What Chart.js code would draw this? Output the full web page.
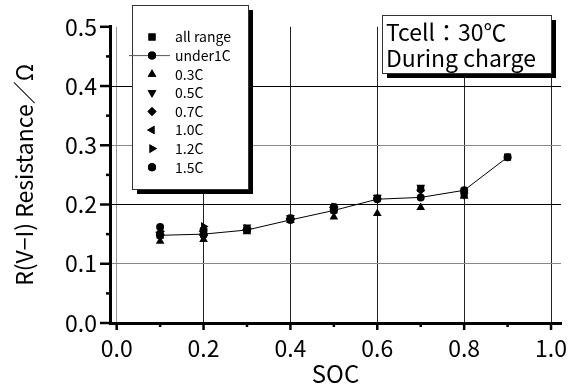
<!DOCTYPE html>
<html>
<head>
<meta charset="utf-8">
<script src="https://cdn.jsdelivr.net/npm/chart.js"></script>
<style>
  html, body { margin: 0; padding: 0; background: #fff; }
  #wrap { width: 579px; height: 391px; }
</style>
</head>
<body>
<div id="wrap"><canvas id="chart" width="579" height="391"></canvas></div>
<script>
// data
const soc = [0.1, 0.2, 0.3, 0.4, 0.5, 0.6, 0.7, 0.8, 0.9];
const allRange = [0.148, 0.150, 0.158, 0.175, 0.191, 0.211, 0.227, 0.217, 0.280];
const under1C  = [0.148, 0.150, 0.157, 0.174, 0.190, 0.209, 0.212, 0.224, 0.280];
const c03 = [0.138, 0.141, 0.154, 0.173, 0.179, 0.185, 0.195, 0.214, null];
const c05 = [0.145, 0.145, 0.162, 0.178, 0.193, 0.212, 0.229, 0.216, null];
const c07 = [0.150, 0.148, 0.158, 0.175, 0.192, 0.210, 0.224, null, null];
const c10 = [0.153, 0.155, 0.158, 0.176, 0.195, null, null, null, null];
const c12 = [0.155, 0.163, 0.160, 0.176, 0.196, null, null, null, null];
const c15 = [0.162, 0.157, 0.158, 0.177, 0.196, null, null, null, null];

const xTicks = [0, 0.1, 0.2, 0.3, 0.4, 0.5, 0.6, 0.7, 0.8, 0.9, 1.0];
const yTicks = [0, 0.05, 0.1, 0.15, 0.2, 0.25, 0.3, 0.35, 0.4, 0.45, 0.5];
const noteLines = ["Tcell：30℃", "During charge"];

const FONT = "'Noto Sans CJK JP', 'Noto Sans', sans-serif";

const pts = vals => soc.map((x, i) => ({ x: x, y: vals[i] }));

const series = [
  { label: "all range", data: allRange, style: "rect", rot: 0, r: 5, line: false },
  { label: "under1C", data: under1C, style: "circle", rot: 0, r: 4, line: true },
  { label: "0.3C", data: c03, style: "triangle", rot: 0, r: 5, line: false },
  { label: "0.5C", data: c05, style: "triangle", rot: 180, r: 5, line: false },
  { label: "0.7C", data: c07, style: "rectRot", rot: 0, r: 4.5, line: false },
  { label: "1.0C", data: c10, style: "triangle", rot: 270, r: 5, line: false },
  { label: "1.2C", data: c12, style: "triangle", rot: 90, r: 5, line: false },
  { label: "1.5C", data: c15, style: "circle", rot: 0, r: 4, line: false }
];

const isMajor = v => Math.abs(Math.round(v * 10) - v * 10) < 1e-6;

// boxes with a drop shadow: legend and note
function shadowBox(ctx, x, y, w, h) {
  ctx.save();
  ctx.fillStyle = "#000";
  ctx.fillRect(x + 5, y + 5, w, h);
  ctx.fillStyle = "#fff";
  ctx.fillRect(x, y, w, h);
  ctx.strokeStyle = "#333";
  ctx.lineWidth = 1;
  ctx.strokeRect(x + 0.5, y + 0.5, w, h);
  ctx.restore();
}

const extras = {
  id: "extras",
  afterDraw(chart) {
    const ctx = chart.ctx;
    const xs = chart.scales.x, ys = chart.scales.y;
    const area = chart.chartArea;

    // axis ticks, major and minor
    ctx.save();
    ctx.strokeStyle = "#000";
    ctx.lineWidth = 2.5;
    xTicks.forEach(v => {
      const px = xs.getPixelForValue(v);
      const len = Math.round(v * 10) % 2 === 0 ? 7 : 4;
      ctx.beginPath();
      ctx.moveTo(px, area.bottom);
      ctx.lineTo(px, area.bottom + len);
      ctx.stroke();
    });
    yTicks.forEach(v => {
      const py = ys.getPixelForValue(v);
      const len = isMajor(v) ? 10 : 4;
      ctx.beginPath();
      ctx.moveTo(area.left, py);
      ctx.lineTo(area.left - len, py);
      ctx.stroke();
    });
    ctx.restore();

    // legend box
    shadowBox(ctx, 132, 5, 116, 184);
    ctx.save();
    ctx.font = "14px " + FONT;
    ctx.textBaseline = "middle";
    ctx.fillStyle = "#000";
    series.forEach((s, i) => {
      const y = 37 + i * 18.6;
      if (s.line) {
        ctx.strokeStyle = "#555";
        ctx.lineWidth = 1;
        ctx.beginPath();
        ctx.moveTo(129, y);
        ctx.lineTo(170, y);
        ctx.stroke();
      }
      Chart.helpers.drawPoint(ctx, {
        pointStyle: s.style, rotation: s.rot, radius: s.r, borderWidth: 0
      }, 152, y);
      ctx.fillStyle = "#000";
      ctx.fill();
      ctx.fillText(s.label, 175, y);
    });
    ctx.restore();

    // note box
    shadowBox(ctx, 382, 15, 169, 58);
    ctx.save();
    ctx.font = "23px " + FONT;
    ctx.fillStyle = "#000";
    ctx.textBaseline = "alphabetic";
    ctx.fillText(noteLines[0], 386, 41);
    ctx.fillText(noteLines[1], 386, 67);
    ctx.restore();
  }
};

new Chart(document.getElementById("chart"), {
  type: "scatter",
  data: {
    datasets: series.map(s => ({
      label: s.label,
      data: pts(s.data),
      showLine: s.line,
      borderColor: "#000",
      borderWidth: 1,
      backgroundColor: "#000",
      pointStyle: s.style,
      rotation: s.rot,
      pointRadius: s.r,
      pointBorderWidth: 0,
      pointBackgroundColor: "#000"
    }))
  },
  options: {
    responsive: false,
    devicePixelRatio: 1,
    animation: false,
    layout: { padding: { left: 0, right: 18, top: 16, bottom: 0 } },
    plugins: { legend: { display: false }, tooltip: { enabled: false } },
    scales: {
      x: {
        type: "linear",
        min: -0.0154,
        max: 1.023,
        afterFit: s => { s.height = 68; },
        afterBuildTicks: s => { s.ticks = xTicks.map(v => ({ value: v })); },
        ticks: {
          autoSkip: false,
          maxRotation: 0,
          padding: 11,
          color: "#000",
          font: { family: FONT, size: 23 },
          callback: v => (Math.round(v * 10) % 2 === 0 ? v.toFixed(1) : "")
        },
        grid: {
          drawTicks: false,
          lineWidth: 1,
          color: c => {
            const v = c.tick ? c.tick.value : 0;
            if (Math.round(v * 10) % 2 !== 0) return "rgba(0,0,0,0)";
            return v === 0 ? "#999" : "#222";
          }
        },
        border: { color: "#000", width: 3 },
        title: {
          display: true,
          text: "SOC",
          color: "#000",
          font: { family: FONT, size: 24 },
          padding: { top: 0, bottom: 3 }
        }
      },
      y: {
        type: "linear",
        min: 0,
        max: 0.5,
        afterFit: s => { s.width = 110; },
        afterBuildTicks: s => { s.ticks = yTicks.map(v => ({ value: v })); },
        ticks: {
          autoSkip: false,
          padding: 13,
          color: "#000",
          font: { family: FONT, size: 23 },
          callback: v => (isMajor(v) ? v.toFixed(1) : "")
        },
        grid: {
          drawTicks: false,
          lineWidth: 1,
          color: c => {
            const v = c.tick ? c.tick.value : 0;
            if (!isMajor(v) || v === 0 || v === 0.5) return "rgba(0,0,0,0)";
            return Math.round(v * 10) % 2 === 0 ? "#000" : "#888";
          }
        },
        border: { color: "#000", width: 3 },
        title: {
          display: true,
          text: "R(V−I) Resistance／Ω",
          color: "#000",
          font: { family: FONT, size: 23 },
          padding: { top: 10, bottom: 0 }
        }
      }
    }
  },
  plugins: [extras]
});
</script>
</body>
</html>
